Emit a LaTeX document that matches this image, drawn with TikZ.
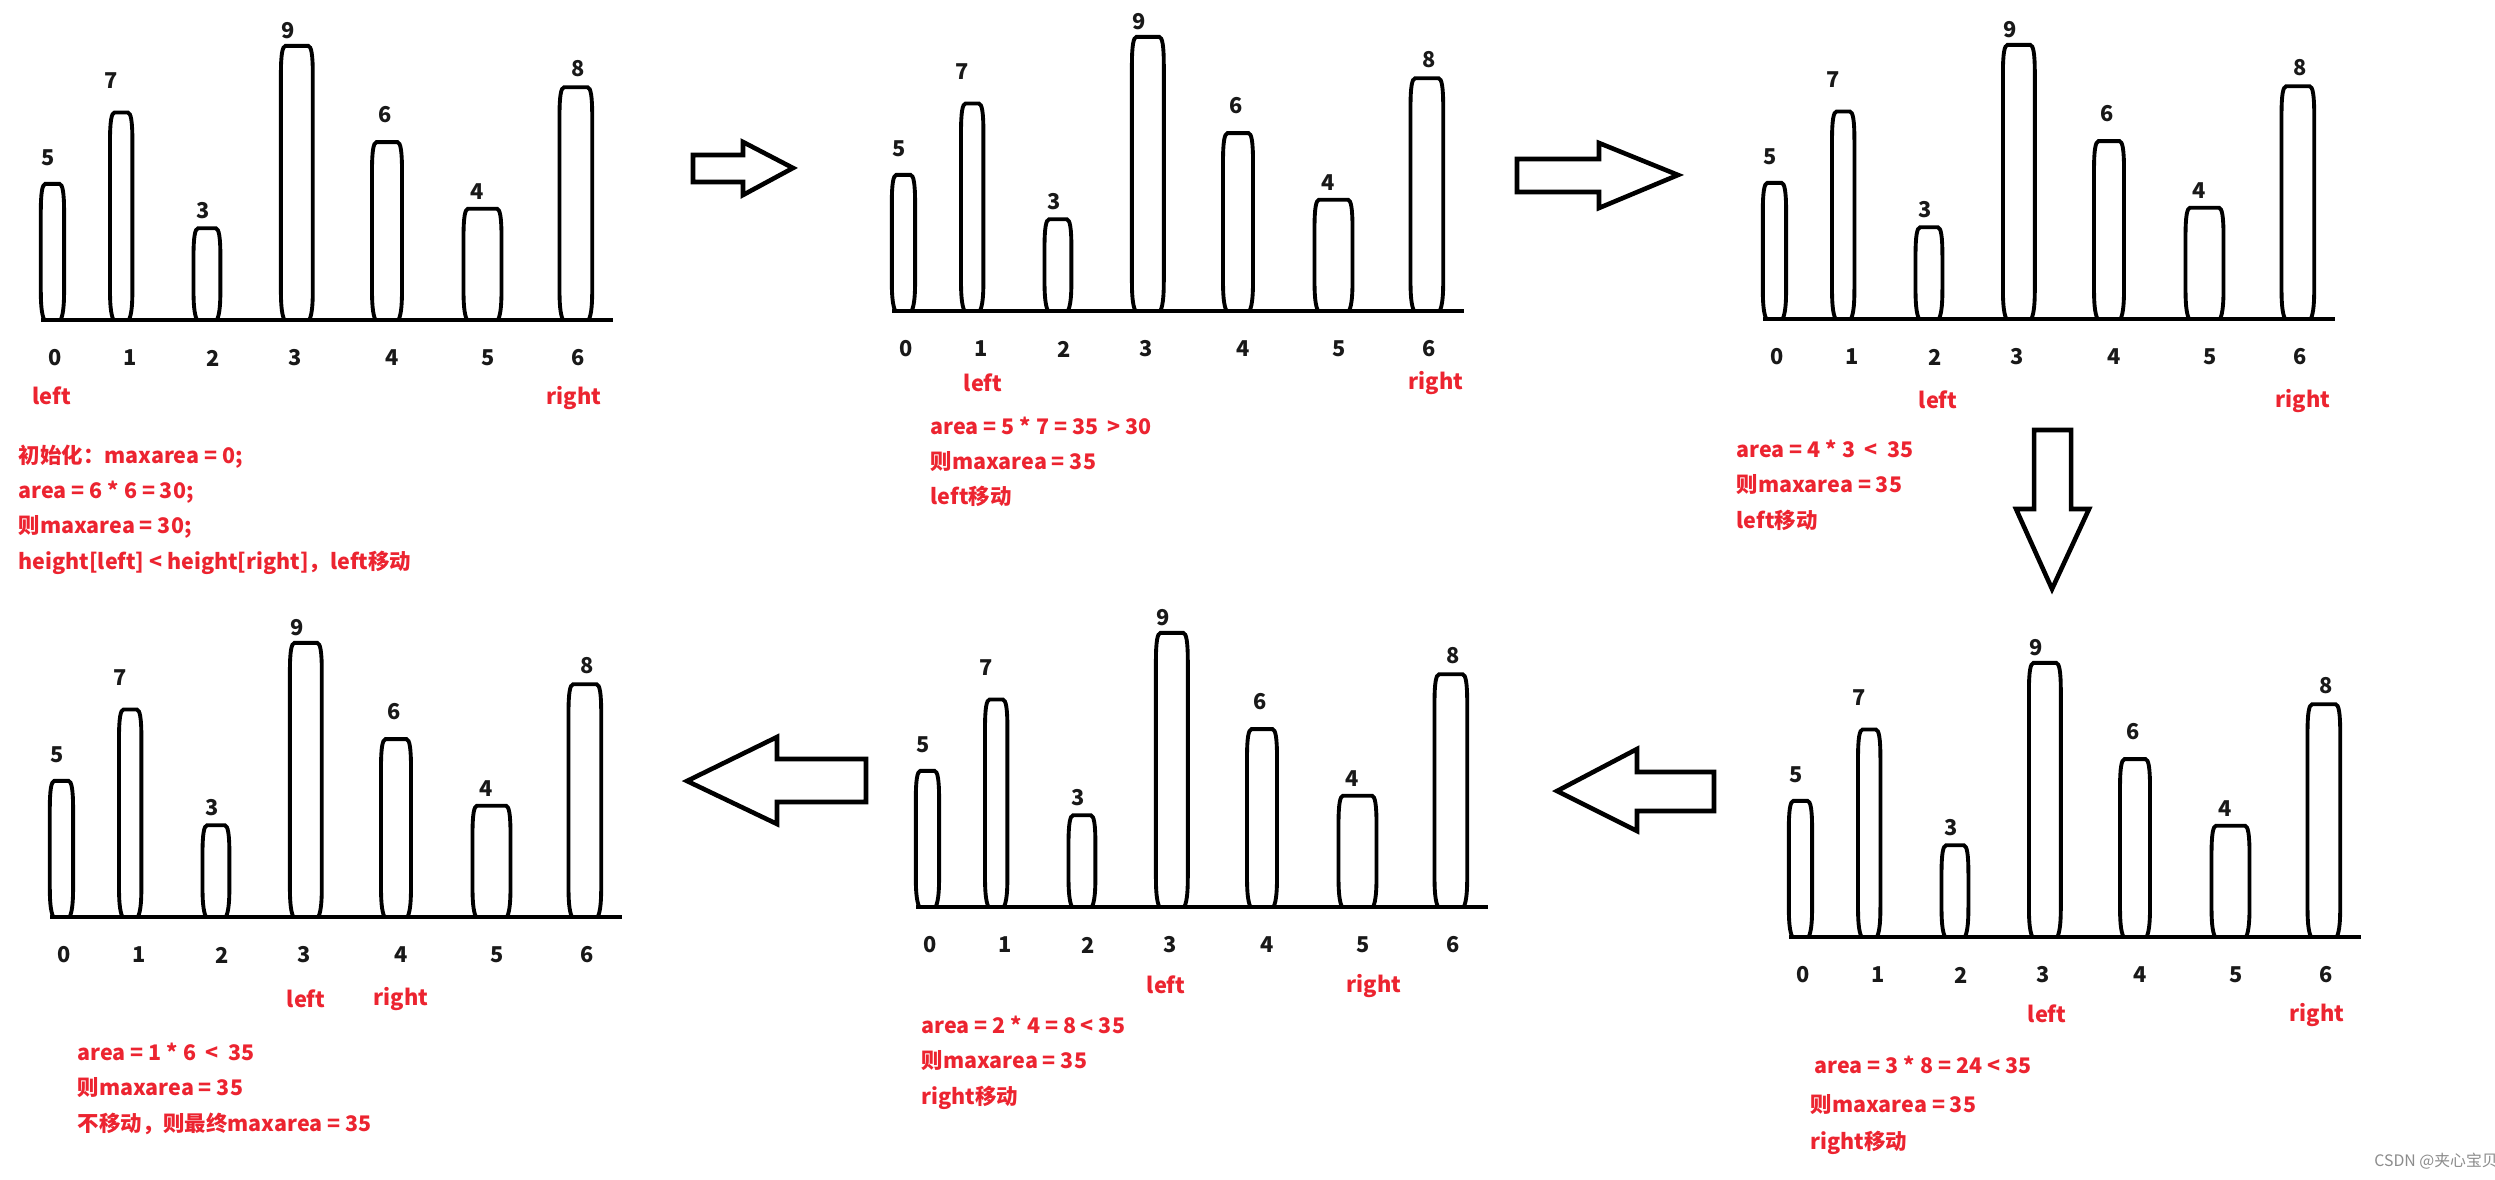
\documentclass[tikz,border=0pt]{standalone}
\usepackage{fontspec}
\setmainfont{Noto Sans CJK SC}
\usetikzlibrary{positioning}

\definecolor{txtred}{RGB}{236,36,48}
\definecolor{inkblack}{RGB}{25,25,25}

\tikzset{
  pillar/.style={draw=black, line width=1.1pt},
  ground/.style={draw=black, line width=1.05pt},
  valnum/.style={inner sep=0pt, text=inkblack, font=\fontsize{6.2}{7}\selectfont\bfseries},
  idxnum/.style={inner sep=0pt, text=inkblack, font=\fontsize{6.2}{7}\selectfont\bfseries},
  ptr/.style={inner sep=0pt, text=txtred, font=\fontsize{6.2}{7}\selectfont\bfseries},
  note/.style={anchor=base west, inner sep=0pt, text=txtred, font=\fontsize{6.1}{7}\selectfont\bfseries},
  bigarrow/.style={draw=black, line width=1.3pt, line join=miter, fill=white},
  wmark/.style={inner sep=0pt, text=black!45, font=\fontsize{4.5}{5}\selectfont}
}

% one state of the heights array: #1 name, #2/#3 left end of the ground line
\newcommand{\heightpanel}[3]{%
\begin{scope}[shift={(#2,#3)}, yscale=-1]
  \foreach \l/\r/\h in {-1.7/24.6/137.6, 67.5/92.9/209, 151/180.9/93.2, 238.4/273.3/275.6, 329.5/362.5/179.4, 421/462/112.8, 517/552.7/234.2}
    \draw[pillar] (\l+5,0) .. controls (\l+2,6) and (\l+1.5,18) .. (\l+1.5,30) -- (\l+1.5,\h-30)
      .. controls (\l+1.5,\h-10) and (\l+3,\h-2) .. (\l+6,\h-1.5) -- (\r-6,\h-1.5)
      .. controls (\r-3,\h-2) and (\r-1.5,\h-10) .. (\r-1.5,\h-30) -- (\r-1.5,30)
      .. controls (\r-1.5,18) and (\r-2,6) .. (\r-5,0);
  \draw[ground] (0,0) -- (571.5,0);
  \foreach \x/\y/\v [count=\i from 0] in {6.8/162.7/5, 70.6/239.3/7, 162/109/3, 247/289.7/9, 343.8/205.3/6, 435.8/128.7/4, 537.5/251.5/8}
    \node[valnum] (#1-v\i) at (\x,\y) {\v};
  \foreach \x [count=\i from 0] in {14.4,89.3,172.4,254.5,351,447.4,536.7}
    \node[idxnum] (#1-i\i) at (\x,-38) {\i};
\end{scope}}

\begin{document}
\begin{tikzpicture}[x=0.01cm, y=-0.01cm]
\fill[white] (0,0) rectangle (2495,1179);
\useasboundingbox (0,0) rectangle (2495,1179);

% step 1: left = 0, right = 6
\heightpanel{s1}{41}{320}
\node[ptr] (s1-left) at (52,396) {left};
\node[ptr] (s1-right) at (574,398) {right};
\node[note] (n1a) at (18,463) {初始化：maxarea = 0;};
\node[note] (n1b) at (18,498) {area = 6 * 6 = 30;};
\node[note] (n1c) at (18,533) {则maxarea = 30;};
\node[note] (n1d) at (18,569) {height[left] < height[right]，left移动};

% step 2: left = 1, right = 6
\heightpanel{s2}{892}{311}
\node[ptr] (s2-left) at (983,383) {left};
\node[ptr] (s2-right) at (1436,383) {right};
\node[note] (n2a) at (930,434) {area = 5 * 7 = 35 \ > 30};
\node[note] (n2b) at (930,469) {则maxarea = 35};
\node[note] (n2c) at (930,504) {left移动};

% step 3: left = 2, right = 6
\heightpanel{s3}{1763}{319}
\node[ptr] (s3-left) at (1938,400) {left};
\node[ptr] (s3-right) at (2303,401) {right};
\node[note] (n3a) at (1736,457) {area = 4 * 3 \ < \ 35};
\node[note] (n3b) at (1736,492) {则maxarea = 35};
\node[note] (n3c) at (1736,528) {left移动};

% step 4: left = 3, right = 6
\heightpanel{s4}{1789}{937}
\node[ptr] (s4-left) at (2047,1014) {left};
\node[ptr] (s4-right) at (2317,1015) {right};
\node[note] (n4a) at (1814,1073) {area = 3 * 8 = 24 < 35};
\node[note] (n4b) at (1810,1112) {则maxarea = 35};
\node[note] (n4c) at (1810,1149) {right移动};

% step 5: left = 3, right = 5
\heightpanel{s5}{916}{907}
\node[ptr] (s5-left) at (1166,985) {left};
\node[ptr] (s5-right) at (1374,986) {right};
\node[note] (n5a) at (921,1033) {area = 2 * 4 = 8 < 35};
\node[note] (n5b) at (921,1068) {则maxarea = 35};
\node[note] (n5c) at (921,1104) {right移动};

% step 6: left = 3, right = 4
\heightpanel{s6}{50}{917}
\node[ptr] (s6-left) at (306,999) {left};
\node[ptr] (s6-right) at (401,999) {right};
\node[note] (n6a) at (77,1060) {area = 1 * 6 \ < \ 35};
\node[note] (n6b) at (77,1095) {则maxarea = 35};
\node[note] (n6c) at (77,1131) {不移动，则最终maxarea = 35};

% block arrows between the steps
\draw[bigarrow] (693,155) -- (743,155) -- (743,142) -- (793,168) -- (743,195) -- (743,182) -- (693,182) -- cycle;
\draw[bigarrow] (1517,159) -- (1599,159) -- (1599,143) -- (1678,175) -- (1599,208) -- (1599,192) -- (1517,192) -- cycle;
\draw[bigarrow] (2034,430) -- (2071,430) -- (2071,509) -- (2089,509) -- (2052,589) -- (2016,509) -- (2034,509) -- cycle;
\draw[bigarrow] (1714,772) -- (1637,772) -- (1637,749) -- (1557,791) -- (1637,831) -- (1637,811) -- (1714,811) -- cycle;
\draw[bigarrow] (866,759) -- (777,759) -- (777,737) -- (687,781) -- (777,824) -- (777,802) -- (866,802) -- cycle;

\node[wmark] (wm) at (2436,1161) {CSDN @夹心宝贝};
\end{tikzpicture}
\end{document}
